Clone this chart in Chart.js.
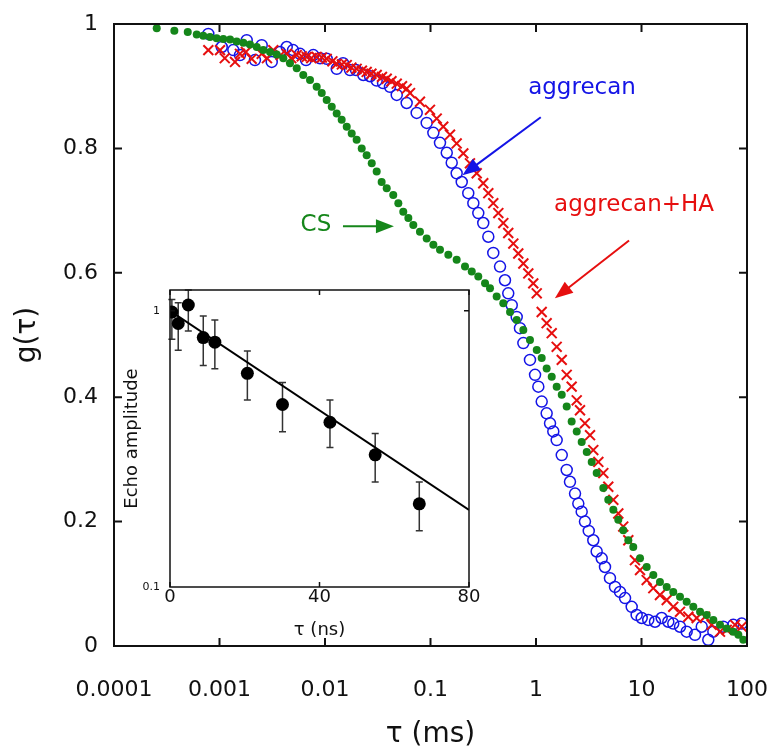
<!DOCTYPE html>
<html>
<head>
<meta charset="utf-8">
<script src="https://cdn.jsdelivr.net/npm/chart.js@4/dist/chart.umd.min.js"></script>
<style>
  html, body { margin: 0; padding: 0; background: #fff; }
  #wrap { position: relative; width: 768px; height: 750px; }
  #main { position: absolute; left: 0; top: 0; }
  #inset { position: absolute; left: 100px; top: 280px; }
</style>
</head>
<body>
<div id="wrap">
  <canvas id="main" width="768" height="750"></canvas>
  <canvas id="inset" width="400" height="370"></canvas>
</div>
<script>
// main panel: g(tau) vs tau; tau as log10(tau / ms)
const csLogTau = [-3.595, -3.428, -3.301, -3.216, -3.154, -3.090, -3.027, -2.964, -2.900, -2.837,
  -2.774, -2.711, -2.647, -2.585, -2.521, -2.458, -2.395, -2.332, -2.268, -2.206,
  -2.142, -2.079, -2.031, -1.984, -1.936, -1.889, -1.842, -1.794, -1.747, -1.700,
  -1.652, -1.605, -1.557, -1.510, -1.463, -1.415, -1.353, -1.305, -1.258, -1.210,
  -1.163, -1.100, -1.036, -0.973, -0.910, -0.831, -0.752, -0.673, -0.609, -0.547,
  -0.483, -0.436, -0.373, -0.310, -0.246, -0.183, -0.120, -0.057, 0.007, 0.054,
  0.101, 0.149, 0.196, 0.244, 0.291, 0.338, 0.386, 0.433, 0.481, 0.528,
  0.575, 0.638, 0.685, 0.733, 0.780, 0.827, 0.875, 0.922, 0.986, 1.049,
  1.112, 1.175, 1.239, 1.301, 1.365, 1.428, 1.491, 1.555, 1.618, 1.681,
  1.744, 1.808, 1.870, 1.918, 1.965];
const csG = [0.993, 0.989, 0.987, 0.983, 0.981, 0.979, 0.977, 0.976, 0.975, 0.972,
  0.970, 0.967, 0.963, 0.958, 0.955, 0.951, 0.945, 0.937, 0.929, 0.918,
  0.910, 0.899, 0.889, 0.878, 0.867, 0.856, 0.846, 0.835, 0.824, 0.814,
  0.800, 0.789, 0.776, 0.763, 0.746, 0.736, 0.725, 0.712, 0.698, 0.688,
  0.677, 0.666, 0.655, 0.645, 0.637, 0.629, 0.621, 0.610, 0.602, 0.594,
  0.583, 0.575, 0.562, 0.551, 0.537, 0.524, 0.508, 0.492, 0.476, 0.463,
  0.446, 0.433, 0.417, 0.404, 0.385, 0.361, 0.345, 0.328, 0.312, 0.296,
  0.278, 0.254, 0.235, 0.219, 0.203, 0.186, 0.170, 0.159, 0.141, 0.127,
  0.114, 0.103, 0.095, 0.087, 0.079, 0.071, 0.063, 0.055, 0.050, 0.042,
  0.034, 0.028, 0.023, 0.018, 0.010];

const aggLogTau = [-3.106, -2.979, -2.869, -2.806, -2.742, -2.664, -2.600, -2.505, -2.427, -2.363,
  -2.303, -2.237, -2.180, -2.111, -2.047, -1.984, -1.889, -1.829, -1.763, -1.706,
  -1.637, -1.573, -1.510, -1.450, -1.384, -1.320, -1.226, -1.131, -1.036, -0.973,
  -0.910, -0.846, -0.799, -0.752, -0.704, -0.642, -0.594, -0.547, -0.500, -0.452,
  -0.405, -0.341, -0.294, -0.263, -0.230, -0.183, -0.152, -0.120, -0.057, -0.009,
  0.022, 0.054, 0.101, 0.133, 0.164, 0.196, 0.244, 0.291, 0.322, 0.370,
  0.401, 0.433, 0.464, 0.500, 0.543, 0.575, 0.623, 0.654, 0.701, 0.749, 0.796,
  0.844, 0.907, 0.954, 1.002, 1.064, 1.128, 1.191, 1.254, 1.301, 1.365,
  1.428, 1.507, 1.571, 1.633, 1.681, 1.775, 1.870, 1.950];
const aggG = [0.984, 0.963, 0.958, 0.950, 0.974, 0.942, 0.966, 0.939, 0.955, 0.963,
  0.958, 0.952, 0.942, 0.950, 0.945, 0.944, 0.928, 0.937, 0.926, 0.926,
  0.918, 0.916, 0.909, 0.905, 0.899, 0.886, 0.873, 0.857, 0.841, 0.825,
  0.809, 0.793, 0.777, 0.760, 0.746, 0.728, 0.712, 0.696, 0.680, 0.658,
  0.632, 0.610, 0.588, 0.567, 0.548, 0.529, 0.511, 0.487, 0.460, 0.436,
  0.417, 0.393, 0.374, 0.358, 0.345, 0.331, 0.307, 0.283, 0.264, 0.245,
  0.229, 0.216, 0.200, 0.185, 0.170, 0.152, 0.141, 0.127, 0.109, 0.095, 0.087,
  0.077, 0.063, 0.050, 0.045, 0.042, 0.039, 0.045, 0.039, 0.036, 0.031,
  0.023, 0.018, 0.031, 0.010, 0.023, 0.031, 0.034, 0.036];

const haLogTau = [-3.106, -2.995, -2.950, -2.853, -2.806, -2.750, -2.695, -2.600, -2.550, -2.490,
  -2.420, -2.363, -2.320, -2.268, -2.220, -2.173, -2.130, -2.079, -2.030, -1.984,
  -1.930, -1.889, -1.840, -1.794, -1.750, -1.700, -1.650, -1.605, -1.560, -1.510,
  -1.460, -1.415, -1.370, -1.320, -1.270, -1.226,
  -1.194, -1.100, -1.005, -0.941, -0.879, -0.815, -0.752, -0.689, -0.626, -0.562,
  -0.500, -0.452, -0.405, -0.357, -0.310, -0.263, -0.215, -0.168, -0.120, -0.073,
  -0.026, 0.007, 0.054, 0.101, 0.149, 0.196, 0.244, 0.291, 0.338, 0.386,
  0.417, 0.464, 0.512, 0.543, 0.591, 0.638, 0.685, 0.733, 0.780, 0.827,
  0.875, 0.938, 0.986, 1.049, 1.112, 1.175, 1.239, 1.301, 1.365, 1.444,
  1.523, 1.602, 1.665, 1.744, 1.808, 1.886, 1.950];
const haG = [0.958, 0.958, 0.945, 0.939, 0.952, 0.955, 0.944, 0.952, 0.945, 0.958,
  0.950, 0.952, 0.945, 0.950, 0.948, 0.947, 0.945, 0.947, 0.946, 0.944,
  0.940, 0.936, 0.935, 0.934, 0.930, 0.928, 0.925, 0.923, 0.920, 0.918,
  0.915, 0.912, 0.908, 0.904, 0.900, 0.896,
  0.889, 0.875, 0.862, 0.848, 0.835, 0.822, 0.808, 0.792, 0.776, 0.760,
  0.744, 0.728, 0.712, 0.696, 0.680, 0.664, 0.647, 0.631, 0.615, 0.599,
  0.583, 0.567, 0.537, 0.519, 0.503, 0.481, 0.460, 0.436, 0.417, 0.395,
  0.379, 0.358, 0.339, 0.315, 0.296, 0.278, 0.256, 0.235, 0.213, 0.192,
  0.170, 0.138, 0.122, 0.106, 0.093, 0.082, 0.074, 0.063, 0.055, 0.047,
  0.045, 0.047, 0.034, 0.023, 0.026, 0.034, 0.031];

const xTicks = [0.0001, 0.001, 0.01, 0.1, 1, 10, 100];
const xTickLabels = ['0.0001', '0.001', '0.01', '0.1', '1', '10', '100'];
const yTicks = [0, 0.2, 0.4, 0.6, 0.8, 1];
const yTickLabels = ['0', '0.2', '0.4', '0.6', '0.8', '1'];

// inset: echo amplitude vs tau (ns)
const insetTau = [0.5, 2.2, 4.9, 8.9, 12.0, 20.7, 30.1, 42.8, 54.9, 66.7];
const insetAmp = [0.99, 0.90, 1.05, 0.80, 0.77, 0.594, 0.458, 0.395, 0.301, 0.20];
const insetErrLow = [0.79, 0.72, 0.846, 0.634, 0.617, 0.476, 0.365, 0.32, 0.24, 0.16];
const insetErrHigh = [1.10, 1.07, 1.19, 0.959, 0.927, 0.716, 0.55, 0.476, 0.36, 0.24];
const fitTau = [0, 80];
const fitAmp = [1.0, 0.19];
const insetXTicks = [0, 40, 80];
const insetYTicks = [0.1, 1];
const insetYTickLabels = ['0.1', '1'];

const BLUE = '#1414e6';
const RED = '#e60f0f';
const GREEN = '#15861a';
const FONT = "'DejaVu Sans', sans-serif";

const pts = (xs, ys) => xs.map((x, i) => ({ x: x, y: ys[i] }));
const logPts = (lxs, ys) => lxs.map((lx, i) => ({ x: Math.pow(10, lx), y: ys[i] }));

// text + arrow labels, given in data units
const notes = [
  { text: 'aggrecan', color: BLUE, at: [2.73, 0.897], from: [1.11, 0.850], to: [0.201, 0.757] },
  { text: 'aggrecan+HA', color: RED, at: [8.5, 0.709], from: [7.62, 0.652], to: [1.51, 0.559] },
  { text: 'CS', color: GREEN, at: [0.0082, 0.677], from: [0.0148, 0.675], to: [0.045, 0.675] }
];

function arrow(ctx, x1, y1, x2, y2, color) {
  const ang = Math.atan2(y2 - y1, x2 - x1);
  const hl = 18, hw = 7;
  ctx.strokeStyle = color;
  ctx.fillStyle = color;
  ctx.lineWidth = 2;
  ctx.beginPath();
  ctx.moveTo(x1, y1);
  ctx.lineTo(x2 - Math.cos(ang) * hl * 0.8, y2 - Math.sin(ang) * hl * 0.8);
  ctx.stroke();
  ctx.beginPath();
  ctx.moveTo(x2, y2);
  ctx.lineTo(x2 - Math.cos(ang) * hl - Math.sin(ang) * hw, y2 - Math.sin(ang) * hl + Math.cos(ang) * hw);
  ctx.lineTo(x2 - Math.cos(ang) * hl + Math.sin(ang) * hw, y2 - Math.sin(ang) * hl - Math.cos(ang) * hw);
  ctx.closePath();
  ctx.fill();
}

// box round the plot with ticks pointing inwards
const frame = {
  id: 'frame',
  beforeDraw(chart, args, opts) {
    if (!opts.fill) return;
    const a = chart.chartArea;
    chart.ctx.save();
    chart.ctx.fillStyle = '#fff';
    chart.ctx.fillRect(a.left, a.top, a.right - a.left, a.bottom - a.top);
    chart.ctx.restore();
  },
  afterDraw(chart, args, opts) {
    const { ctx, chartArea: a, scales } = chart;
    ctx.save();
    ctx.strokeStyle = '#111';
    ctx.lineWidth = opts.width;
    ctx.beginPath();
    opts.xt.forEach(v => {
      const px = scales.x.getPixelForValue(v);
      ctx.moveTo(px, a.bottom); ctx.lineTo(px, a.bottom - opts.len);
      ctx.moveTo(px, a.top); ctx.lineTo(px, a.top + opts.len);
    });
    opts.yt.forEach(v => {
      const py = scales.y.getPixelForValue(v);
      ctx.moveTo(a.left, py); ctx.lineTo(a.left + opts.len, py);
      ctx.moveTo(a.right, py); ctx.lineTo(a.right - opts.len, py);
    });
    ctx.stroke();
    ctx.strokeRect(a.left, a.top, a.right - a.left, a.bottom - a.top);
    ctx.restore();
  }
};

const labels = {
  id: 'labels',
  afterDraw(chart) {
    const { ctx, scales } = chart;
    ctx.save();
    ctx.font = '23px ' + FONT;
    ctx.textAlign = 'center';
    ctx.textBaseline = 'middle';
    notes.forEach(n => {
      const sx = v => scales.x.getPixelForValue(v[0]);
      const sy = v => scales.y.getPixelForValue(v[1]);
      ctx.fillStyle = n.color;
      ctx.fillText(n.text, sx(n.at), sy(n.at));
      arrow(ctx, sx(n.from), sy(n.from), sx(n.to), sy(n.to), n.color);
    });
    ctx.restore();
  }
};

const errorBars = {
  id: 'errorBars',
  beforeDatasetsDraw(chart) {
    const { ctx, scales } = chart;
    ctx.save();
    ctx.strokeStyle = '#333';
    ctx.lineWidth = 1.5;
    ctx.beginPath();
    insetTau.forEach((t, i) => {
      const px = scales.x.getPixelForValue(t);
      const lo = scales.y.getPixelForValue(insetErrLow[i]);
      const hi = scales.y.getPixelForValue(insetErrHigh[i]);
      ctx.moveTo(px, lo); ctx.lineTo(px, hi);
      ctx.moveTo(px - 3.5, lo); ctx.lineTo(px + 3.5, lo);
      ctx.moveTo(px - 3.5, hi); ctx.lineTo(px + 3.5, hi);
    });
    ctx.stroke();
    ctx.restore();
  }
};

function fixSize(w, h) {
  return function (scale) {
    if (w !== null) scale.width = w;
    if (h !== null) scale.height = h;
    scale.paddingLeft = 0; scale.paddingRight = 0;
    scale.paddingTop = 0; scale.paddingBottom = 0;
  };
}

new Chart(document.getElementById('main'), {
  type: 'scatter',
  data: {
    datasets: [
      { label: 'CS', data: logPts(csLogTau, csG), pointStyle: 'circle', pointRadius: 4,
        backgroundColor: GREEN, borderColor: GREEN, borderWidth: 0 },
      { label: 'aggrecan+HA', data: logPts(haLogTau, haG), pointStyle: 'crossRot', pointRadius: 7,
        borderColor: RED, backgroundColor: RED, borderWidth: 2 },
      { label: 'aggrecan', data: logPts(aggLogTau, aggG), pointStyle: 'circle', pointRadius: 5.5,
        borderColor: BLUE, backgroundColor: 'rgba(0,0,0,0)', borderWidth: 1.5 }
    ]
  },
  options: {
    responsive: false,
    animation: false,
    layout: { padding: { left: 0, top: 24, right: 21, bottom: 0 } },
    plugins: {
      legend: { display: false },
      tooltip: { enabled: false },
      frame: { xt: xTicks, yt: yTicks, len: 8, width: 2 }
    },
    scales: {
      x: {
        type: 'logarithmic', min: 0.0001, max: 100,
        afterBuildTicks: s => { s.ticks = xTicks.map(v => ({ value: v })); },
        afterFit: fixSize(null, 104),
        grid: { display: false, drawTicks: false },
        border: { display: false },
        ticks: { autoSkip: false, maxRotation: 0, padding: 31, color: '#111',
          font: { family: FONT, size: 22 }, callback: (v, i) => xTickLabels[i] },
        title: { display: true, text: 'τ (ms)', color: '#111', padding: { top: 0, bottom: 0 },
          font: { family: FONT, size: 28, lineHeight: 1.1 } }
      },
      y: {
        type: 'linear', min: 0, max: 1,
        afterBuildTicks: s => { s.ticks = yTicks.map(v => ({ value: v })); },
        afterFit: fixSize(114, null),
        grid: { display: false, drawTicks: false },
        border: { display: false },
        ticks: { autoSkip: false, padding: 16, color: '#111',
          font: { family: FONT, size: 22 }, callback: (v, i) => yTickLabels[i] },
        title: { display: true, text: 'g(τ)', color: '#111', padding: { top: 12, bottom: 0 },
          font: { family: FONT, size: 28, lineHeight: 1.1 } }
      }
    }
  },
  plugins: [frame, labels]
});

new Chart(document.getElementById('inset'), {
  type: 'scatter',
  data: {
    datasets: [
      { label: 'echo', data: pts(insetTau, insetAmp), order: 0, pointStyle: 'circle', pointRadius: 6.5,
        backgroundColor: '#000', borderColor: '#000', borderWidth: 0 },
      { label: 'fit', type: 'line', data: pts(fitTau, fitAmp), order: 1, pointRadius: 0,
        borderColor: '#000', borderWidth: 2, fill: false }
    ]
  },
  options: {
    responsive: false,
    animation: false,
    layout: { padding: { left: 0, top: 10, right: 31, bottom: 0 } },
    plugins: {
      legend: { display: false },
      tooltip: { enabled: false },
      frame: { xt: insetXTicks, yt: [1], len: 5, width: 1.5, fill: true }
    },
    scales: {
      x: {
        type: 'linear', min: 0, max: 80,
        afterBuildTicks: s => { s.ticks = insetXTicks.map(v => ({ value: v })); },
        afterFit: fixSize(null, 63),
        grid: { display: false, drawTicks: false },
        border: { display: false },
        ticks: { autoSkip: false, maxRotation: 0, padding: 0, color: '#111',
          font: { family: FONT, size: 18 } },
        title: { display: true, text: 'τ (ns)', color: '#111', padding: { top: 0, bottom: 9 },
          font: { family: FONT, size: 18 } }
      },
      y: {
        type: 'logarithmic', min: 0.1, max: 1.19,
        afterBuildTicks: s => { s.ticks = insetYTicks.map(v => ({ value: v })); },
        afterFit: fixSize(70, null),
        grid: { display: false, drawTicks: false },
        border: { display: false },
        ticks: { autoSkip: false, padding: 10, color: '#111',
          font: { family: FONT, size: 11 }, callback: (v, i) => insetYTickLabels[i] },
        title: { display: true, text: 'Echo amplitude', color: '#111', padding: { top: 22, bottom: 0 },
          font: { family: FONT, size: 18 } }
      }
    }
  },
  plugins: [frame, errorBars]
});
</script>
</body>
</html>
